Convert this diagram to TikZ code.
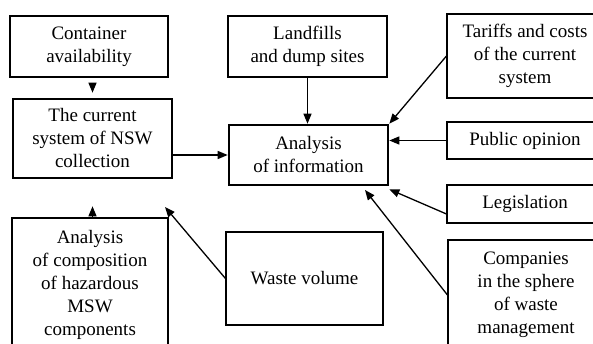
\documentclass[tikz,border=0pt]{standalone}
\usepackage{fontspec}
\setmainfont{Liberation Serif}
\newfontfamily\boxfont{Liberation Serif}
\usetikzlibrary{positioning,arrows.meta}

\begin{document}
\begin{tikzpicture}[
    x=1pt, y=-1pt,
    box/.style={rectangle, draw=black, line width=1.1pt, align=center, inner sep=0pt,
        font=\boxfont\fontsize{19}{23}\selectfont},
    mainbox/.style={box, line width=2.6pt},
    link/.style={-{Triangle[length=10pt, width=8pt]}, line width=1.3pt}
    ]
        \useasboundingbox (0,0) rectangle (593,344);
        \clip (0,0) rectangle (593,344);

        %Nodes
        \node[box, minimum width=158pt, minimum height=61pt]
            (cont)      at (89,46.5)    {Container\\availability};
        \node[mainbox, minimum width=159pt, minimum height=79pt]
            (curr)      at (92.5,138.5) {The current\\system of NSW\\collection};
        \node[box, minimum width=159pt, minimum height=61pt]
            (landf)     at (307.5,46.5) {Landfills\\and dump sites};
        \node[mainbox, minimum width=159pt, minimum height=60pt]
            (anal)      at (308.5,155)  {Analysis\\of information};
        \node[box, minimum width=156pt, minimum height=84pt]
            (tarif)     at (525,56)     {Tariffs and costs\\of the current\\system};
        \node[box, minimum width=156pt, minimum height=37pt]
            (pub)       at (525,140.5)  {Public opinion};
        \node[box, minimum width=156pt, minimum height=38pt]
            (legis)     at (525,204)    {Legislation};
        \node[box, minimum width=156pt, minimum height=110pt]
            (comp)      at (526,295)    {Companies\\in the sphere\\of waste\\management};
        \node[box, minimum width=157pt, minimum height=93pt]
            (waste)     at (304.5,278.5) {Waste volume};
        \node[box, minimum width=156pt, minimum height=134pt]
            (compo)     at (90,285)     {Analysis\\of composition\\of hazardous\\MSW\\components};

        %Free ends
        \coordinate (compEnd)  at (365,190);
        \coordinate (wasteEnd) at (165,207);

        %Lines
        \draw[link, shorten <=6pt, shorten >=5pt]
            (curr.north |- cont.south) -- (curr.north);
        \draw[link, shorten >=27pt]
            (curr.south |- compo.north) -- (curr.south);
        \draw[link]
            (curr.east |- anal.west) -- (anal.west);
        \draw[link]
            (landf.south) -- (landf.south |- anal.north);
        \draw[link]
            (tarif.west) -- (anal.north east);
        \draw[link]
            (pub.west) -- (anal.east |- pub.west);
        \draw[link]
            ([yshift=-10pt]legis.west) -- ([yshift=-3pt]anal.south east);
        \draw[link]
            (comp.west) -- (compEnd);
        \draw[link]
            (waste.west) -- (wasteEnd);
\end{tikzpicture}
\end{document}
